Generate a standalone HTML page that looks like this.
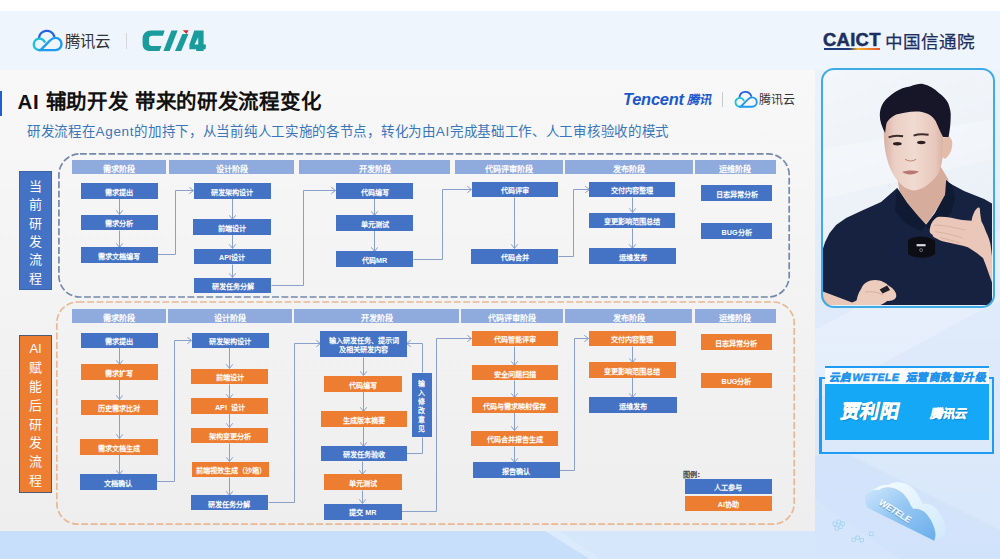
<!DOCTYPE html>
<html lang="zh-CN">
<head>
<meta charset="utf-8">
<style>
*{margin:0;padding:0;box-sizing:border-box}
html,body{width:1000px;height:559px;overflow:hidden}
body{position:relative;background:#ffffff;font-family:"Liberation Sans",sans-serif}
.abs{position:absolute}
#topband{position:absolute;left:0;top:11px;width:1000px;height:59px;background:#eff5fd}
#right{position:absolute;left:815px;top:70px;width:185px;height:489px;background:linear-gradient(180deg,#ebf2fb 0%,#e0ebfa 45%,#d8e7fb 100%);overflow:hidden}
#bottom{position:absolute;left:0;top:531px;width:815px;height:28px;background:#c8dffb;overflow:hidden}
#slide{position:absolute;left:0;top:70px;width:815px;height:461px;background:linear-gradient(180deg,#f8f8f9 0%,#f4f4f5 40%,#eeeeef 100%);overflow:hidden}
.bx{position:absolute;color:#fff;display:flex;padding-top:2.6px;align-items:center;justify-content:center;text-align:center;font-family:"Liberation Sans",sans-serif;font-weight:bold;font-size:7.2px;line-height:9px;white-space:nowrap}
.b{background:#4472c4}
.o{background:#ed7d31}
.hd{position:absolute;background:#8faadc;color:#fff;display:flex;padding-top:2px;align-items:center;justify-content:center;font-family:"Liberation Sans",sans-serif;font-weight:bold;font-size:8.2px;white-space:nowrap}
.vlabel{position:absolute;color:#fff;font-family:"Liberation Sans",sans-serif;font-weight:300;font-size:13px;line-height:18.4px;text-align:center;display:flex;flex-direction:column;align-items:center;justify-content:center}
</style>
</head>
<body>
<div id="topband"></div>
<!-- header logos -->
<svg class="abs" style="left:28px;top:26px" width="40" height="30" viewBox="28 26 40 30">
  <g fill="none" stroke-width="2.4" stroke-linecap="round">
  <path d="M39,38.3 A7.8,7.8 0 0 1 54.2,36.2" stroke="#2563e3"/>
  <path d="M44.6,41.8 A5.7,5.7 0 1 0 39.4,50.1" stroke="#1fc3d6"/>
  <path d="M39.4,50.1 L55.4,50.1 A6.1,6.1 0 0 0 55.4,37.9 C53,37.9 51.5,39 50,40.5 L40.8,49.8" stroke="#1e9af0" stroke-linejoin="round"/>
  </g>
</svg>
<div class="abs" style="left:64.5px;top:29px;font-size:15.4px;color:#333;letter-spacing:0px">腾讯云</div>
<div class="abs" style="left:125.5px;top:33px;width:1px;height:16px;background:#d3d7de"></div>
<svg class="abs" style="left:140px;top:28px" width="70" height="26" viewBox="140 28 70 26">
  <g fill="#1a9b9c">
    <path d="M164.6,30.6 L151,30.6 C146,30.6 142.6,34 142.6,38.5 L142.6,44 C142.6,48.5 145.5,51 150,51 L159.6,51 L161.4,46 L152,46 C150,46 149,45 149,43 L149,38.6 C149,36.8 150.3,35.7 152.3,35.7 L163,35.7 Z"/>
    <path d="M171.4,30.6 L177.6,30.6 L169.6,51 L163.4,51 Z"/>
    <path d="M182.4,33.9 L188.4,33.9 L181.2,51 L175,51 Z"/>
    <path fill-rule="evenodd" d="M194.3,30.6 L203.6,30.6 L203.6,44.6 L206,44.6 L205.6,49.2 L203.6,49.2 L203.6,51 L196.2,51 L196.2,49.2 L189.4,49.2 L189.4,44.6 Z M198.2,37.2 L198.2,44.6 L194.6,44.6 Z"/>
  </g>
  <path d="M182.8,30.2 L188.6,30.2 L186.4,34 Z" fill="#d8262c"/>
</svg>
<!-- CAICT -->
<div class="abs" style="left:823px;top:30px;font-size:17.5px;font-weight:bold;color:#1d2f5f;letter-spacing:0.3px;-webkit-text-stroke:0.5px #1d2f5f;transform:scaleX(1.05);transform-origin:0 0">CAICT</div>
<div class="abs" style="left:824px;top:47.5px;width:56px;height:2.2px;background:linear-gradient(90deg,#1d3a7a 0%,#1d3a7a 45%,#f5b32a 60%,#e8572a 100%)"></div>
<div class="abs" style="left:884.5px;top:27.5px;font-size:17.6px;color:#1d2f5f;-webkit-text-stroke:0.25px #1d2f5f">中国信通院</div>

<div id="right">
  <svg width="185" height="489" viewBox="815 70 185 489" style="position:absolute;left:0;top:0">
    <polygon points="815,330 1000,230 1000,300 815,400" fill="#ffffff" opacity="0.22"/>
    <polygon points="850,455 1000,530 1000,559 900,559 815,500 815,455" fill="#c9def8" opacity="0.45"/>
    <polygon points="815,470 870,470 1000,540 1000,559 815,559" fill="#d2e4fb" opacity="0.5"/>
  </svg>
</div>
<div id="bottom"><svg width="815" height="28" style="position:absolute;left:0;top:0"><polygon points="545,0 815,0 815,28 590,28" fill="#d6e7fc"/><polygon points="545,0 560,0 600,28 590,28" fill="#e0edfd" opacity="0.6"/></svg></div>

<div id="slide">
  <div class="abs" style="left:0;top:21px;width:2.2px;height:25px;background:#1f5fd1"></div>
  <div class="abs" style="left:17.5px;top:15px;font-size:20.5px;font-weight:bold;color:#111;white-space:nowrap;letter-spacing:0.7px">AI 辅助开发 带来的研发流程变化</div>
  <div class="abs" style="left:27px;top:50.3px;font-size:13.5px;letter-spacing:0.7px;color:#3a76bb;font-family:'Liberation Sans',sans-serif;white-space:nowrap">研发流程在Agent的加持下，从当前纯人工实施的各节点，转化为由AI完成基础工作、人工审核验收的模式</div>
  <!-- Tencent logo in slide -->
  <div class="abs" style="left:623px;top:20.3px;font-size:16.4px;font-weight:bold;font-style:italic;color:#1c58cc;letter-spacing:-0.2px;white-space:nowrap">Tencent</div><div class="abs" style="left:686px;top:19.6px;font-size:12.3px;font-weight:bold;color:#1c58cc;white-space:nowrap;transform:skewX(-12deg);transform-origin:0 100%">腾讯</div>
  <div class="abs" style="left:722px;top:22px;width:1px;height:15px;background:#c5c9d0"></div>
  
  <div class="abs" style="left:759px;top:19.5px;font-size:12px;color:#333;white-space:nowrap">腾讯云</div>
</div>

<svg class="abs" style="left:730px;top:88px" width="30" height="22" viewBox="730 88 30 22">
  <g fill="none" stroke-width="2.4" stroke-linecap="round" transform="translate(709.45,68.13) scale(0.77)">
  <path d="M39,38.3 A7.8,7.8 0 0 1 54.2,36.2" stroke="#2563e3"/>
  <path d="M44.6,41.8 A5.7,5.7 0 1 0 39.4,50.1" stroke="#1fc3d6"/>
  <path d="M39.4,50.1 L55.4,50.1 A6.1,6.1 0 0 0 55.4,37.9 C53,37.9 51.5,39 50,40.5 L40.8,49.8" stroke="#1e9af0" stroke-linejoin="round"/>
  </g>
</svg>
<!-- chart layer in page coords -->
<svg class="abs" style="left:0;top:0" width="815" height="531" viewBox="0 0 815 531">
  <rect x="58.9" y="153.9" width="730.3" height="143.1" rx="21" ry="21" fill="none" stroke="#7589aa" stroke-width="1.7" stroke-dasharray="6.9 2.5"/>
  <rect x="56.8" y="302" width="737.4" height="222.2" rx="21" ry="21" fill="none" stroke="#eab894" stroke-width="1.7" stroke-dasharray="6.9 2.5"/>
  <g fill="none" stroke="#8b9fcb" stroke-width="1">
<path d="M119.5,198.5 L119.5,214.5"/>
<path d="M116.3,210.3 L119.5,214.5 L122.7,210.3"/>
<path d="M119.5,230.5 L119.5,247.5"/>
<path d="M116.3,243.3 L119.5,247.5 L122.7,243.3"/>
<path d="M157.5,254.5 L175.5,254.5 L175.5,190.5 L193.5,190.5"/>
<path d="M189.3,193.7 L193.5,190.5 L189.3,187.3"/>
<path d="M232.5,198.5 L232.5,219.5"/>
<path d="M229.3,215.3 L232.5,219.5 L235.7,215.3"/>
<path d="M232.5,234.5 L232.5,248.5"/>
<path d="M229.3,244.3 L232.5,248.5 L235.7,244.3"/>
<path d="M232.5,264.5 L232.5,277.5"/>
<path d="M229.3,273.3 L232.5,277.5 L235.7,273.3"/>
<path d="M271.5,285.5 L303.5,285.5 L303.5,190.5 L335.5,190.5"/>
<path d="M331.3,193.7 L335.5,190.5 L331.3,187.3"/>
<path d="M374.5,198.5 L374.5,215.5"/>
<path d="M371.3,211.3 L374.5,215.5 L377.7,211.3"/>
<path d="M374.5,230.5 L374.5,251.5"/>
<path d="M371.3,247.3 L374.5,251.5 L377.7,247.3"/>
<path d="M413.5,259.5 L442.5,259.5 L442.5,189.5 L471.5,189.5"/>
<path d="M467.3,192.7 L471.5,189.5 L467.3,186.3"/>
<path d="M514.5,197.5 L514.5,248.5"/>
<path d="M511.3,244.3 L514.5,248.5 L517.7,244.3"/>
<path d="M558.5,256.5 L573.5,256.5 L573.5,189.5 L589.5,189.5"/>
<path d="M585.3,192.7 L589.5,189.5 L585.3,186.3"/>
<path d="M632.5,197.5 L632.5,212.5"/>
<path d="M629.3,208.3 L632.5,212.5 L635.7,208.3"/>
<path d="M632.5,228.5 L632.5,248.5"/>
<path d="M629.3,244.3 L632.5,248.5 L635.7,244.3"/>
<path d="M119.5,347.5 L119.5,364.5"/>
<path d="M116.3,360.3 L119.5,364.5 L122.7,360.3"/>
<path d="M119.5,379.5 L119.5,399.5"/>
<path d="M116.3,395.3 L119.5,399.5 L122.7,395.3"/>
<path d="M119.5,414.5 L119.5,438.5"/>
<path d="M116.3,434.3 L119.5,438.5 L122.7,434.3"/>
<path d="M119.5,454.5 L119.5,474.5"/>
<path d="M116.3,470.3 L119.5,474.5 L122.7,470.3"/>
<path d="M156.5,481.5 L174.5,481.5 L174.5,340.5 L191.5,340.5"/>
<path d="M187.3,343.7 L191.5,340.5 L187.3,337.3"/>
<path d="M229.5,347.5 L229.5,368.5"/>
<path d="M226.3,364.3 L229.5,368.5 L232.7,364.3"/>
<path d="M229.5,384.5 L229.5,398.5"/>
<path d="M226.3,394.3 L229.5,398.5 L232.7,394.3"/>
<path d="M229.5,413.5 L229.5,427.5"/>
<path d="M226.3,423.3 L229.5,427.5 L232.7,423.3"/>
<path d="M229.5,443.5 L229.5,461.5"/>
<path d="M226.3,457.3 L229.5,461.5 L232.7,457.3"/>
<path d="M229.5,477.5 L229.5,495.5"/>
<path d="M226.3,491.3 L229.5,495.5 L232.7,491.3"/>
<path d="M268.5,502.5 L294.5,502.5 L294.5,343.5 L320.5,343.5"/>
<path d="M316.3,346.7 L320.5,343.5 L316.3,340.3"/>
<path d="M363.5,357.5 L363.5,375.5"/>
<path d="M360.3,371.3 L363.5,375.5 L366.7,371.3"/>
<path d="M363.5,391.5 L363.5,411.5"/>
<path d="M360.3,407.3 L363.5,411.5 L366.7,407.3"/>
<path d="M363.5,426.5 L363.5,446.5"/>
<path d="M360.3,442.3 L363.5,446.5 L366.7,442.3"/>
<path d="M362.5,461.5 L362.5,474.5"/>
<path d="M359.3,470.3 L362.5,474.5 L365.7,470.3"/>
<path d="M362.5,490.5 L362.5,503.5"/>
<path d="M359.3,499.3 L362.5,503.5 L365.7,499.3"/>
<path d="M406.5,453.5 L422.5,453.5 L422.5,437.5"/>
<path d="M422.5,372.5 L422.5,343.5 L406.5,343.5"/>
<path d="M410.7,340.3 L406.5,343.5 L410.7,346.7"/>
<path d="M401.5,511.5 L436.5,511.5 L436.5,338.5 L471.5,338.5"/>
<path d="M467.3,341.7 L471.5,338.5 L467.3,335.3"/>
<path d="M514.5,346.5 L514.5,365.5"/>
<path d="M511.3,361.3 L514.5,365.5 L517.7,361.3"/>
<path d="M514.5,380.5 L514.5,397.5"/>
<path d="M511.3,393.3 L514.5,397.5 L517.7,393.3"/>
<path d="M514.5,412.5 L514.5,430.5"/>
<path d="M511.3,426.3 L514.5,430.5 L517.7,426.3"/>
<path d="M514.5,446.5 L514.5,462.5"/>
<path d="M511.3,458.3 L514.5,462.5 L517.7,458.3"/>
<path d="M559.5,470.5 L574.5,470.5 L574.5,338.5 L588.5,338.5"/>
<path d="M584.3,341.7 L588.5,338.5 L584.3,335.3"/>
<path d="M632.5,346.5 L632.5,362.5"/>
<path d="M629.3,358.3 L632.5,362.5 L635.7,358.3"/>
<path d="M632.5,377.5 L632.5,397.5"/>
<path d="M629.3,393.3 L632.5,397.5 L635.7,393.3"/>
  </g>
</svg>
<div class="vlabel" style="left:19.3px;top:170.5px;width:32.5px;height:119px;background:#4472c4;border:1px solid #3c62a8;padding-top:6px">当<br>前<br>研<br>发<br>流<br>程</div>
<div class="vlabel" style="left:19.4px;top:335px;width:32.3px;height:158px;background:#ed7d31;border:1px solid #4d5b73;line-height:18.8px;padding-top:3px">AI<br>赋<br>能<br>后<br>研<br>发<br>流<br>程</div>
<div class="hd" style="left:71.5px;top:159.9px;width:94.7px;height:14.0px">需求阶段</div>
<div class="hd" style="left:169.3px;top:159.9px;width:124.5px;height:14.0px">设计阶段</div>
<div class="hd" style="left:299.3px;top:159.9px;width:151.0px;height:14.0px">开发阶段</div>
<div class="hd" style="left:455.3px;top:159.9px;width:107.6px;height:14.0px">代码评审阶段</div>
<div class="hd" style="left:565.0px;top:159.9px;width:127.6px;height:14.0px">发布阶段</div>
<div class="hd" style="left:695.2px;top:159.9px;width:80.5px;height:14.0px">运维阶段</div>
<div class="hd" style="left:71.9px;top:309.3px;width:93.9px;height:14.0px">需求阶段</div>
<div class="hd" style="left:167.6px;top:309.3px;width:124.5px;height:14.0px">设计阶段</div>
<div class="hd" style="left:294.3px;top:309.3px;width:164.9px;height:14.0px">开发阶段</div>
<div class="hd" style="left:461.1px;top:309.3px;width:101.6px;height:14.0px">代码评审阶段</div>
<div class="hd" style="left:565.3px;top:309.3px;width:126.9px;height:14.0px">发布阶段</div>
<div class="hd" style="left:695.2px;top:309.3px;width:80.4px;height:14.0px">运维阶段</div>
<div class="bx b" style="left:80.5px;top:183.0px;width:77.5px;height:15.8px;"><span>需求提出</span></div>
<div class="bx b" style="left:80.5px;top:214.5px;width:77.5px;height:15.5px;"><span>需求分析</span></div>
<div class="bx b" style="left:80.8px;top:247.1px;width:77.0px;height:15.6px;"><span>需求文档编写</span></div>
<div class="bx b" style="left:193.7px;top:183.0px;width:77.6px;height:15.8px;"><span>研发架构设计</span></div>
<div class="bx b" style="left:193.0px;top:219.3px;width:77.5px;height:15.7px;"><span>前端设计</span></div>
<div class="bx b" style="left:193.5px;top:248.7px;width:77.0px;height:15.8px;"><span>API设计</span></div>
<div class="bx b" style="left:194.3px;top:277.7px;width:77.0px;height:15.3px;"><span>研发任务分解</span></div>
<div class="bx b" style="left:335.8px;top:183.0px;width:77.5px;height:15.8px;"><span>代码编写</span></div>
<div class="bx b" style="left:335.8px;top:215.2px;width:77.5px;height:15.8px;"><span>单元测试</span></div>
<div class="bx b" style="left:335.8px;top:251.4px;width:77.5px;height:15.8px;"><span>代码MR</span></div>
<div class="bx b" style="left:471.5px;top:181.7px;width:86.5px;height:15.5px;"><span>代码评审</span></div>
<div class="bx b" style="left:471.0px;top:248.7px;width:87.0px;height:15.8px;"><span>代码合并</span></div>
<div class="bx b" style="left:589.4px;top:181.7px;width:86.1px;height:15.5px;"><span>交付内容整理</span></div>
<div class="bx b" style="left:589.4px;top:212.5px;width:86.1px;height:15.8px;"><span>变更影响范围总结</span></div>
<div class="bx b" style="left:589.4px;top:248.0px;width:86.6px;height:15.5px;"><span>运维发布</span></div>
<div class="bx b" style="left:701.4px;top:185.4px;width:70.3px;height:15.6px;"><span>日志异常分析</span></div>
<div class="bx b" style="left:701.4px;top:223.2px;width:70.3px;height:15.8px;"><span>BUG分析</span></div>
<div class="bx b" style="left:80.5px;top:332.6px;width:77.2px;height:15.2px;"><span>需求提出</span></div>
<div class="bx o" style="left:80.5px;top:364.0px;width:77.2px;height:15.5px;"><span>需求扩写</span></div>
<div class="bx o" style="left:80.5px;top:399.6px;width:77.2px;height:15.3px;"><span>历史需求比对</span></div>
<div class="bx o" style="left:80.4px;top:439.0px;width:77.7px;height:15.6px;"><span>需求文档生成</span></div>
<div class="bx b" style="left:79.5px;top:474.4px;width:77.5px;height:15.6px;"><span>文档确认</span></div>
<div class="bx b" style="left:191.8px;top:332.6px;width:77.2px;height:15.2px;"><span>研发架构设计</span></div>
<div class="bx o" style="left:191.3px;top:368.8px;width:77.2px;height:15.5px;"><span>前端设计</span></div>
<div class="bx o" style="left:191.3px;top:398.3px;width:77.2px;height:15.3px;"><span>API&nbsp;&nbsp;设计</span></div>
<div class="bx o" style="left:191.4px;top:427.9px;width:77.1px;height:15.6px;"><span>架构变更分析</span></div>
<div class="bx o" style="left:192.0px;top:461.5px;width:77.4px;height:15.6px;"><span>前端视效生成（沙箱）</span></div>
<div class="bx b" style="left:190.8px;top:495.4px;width:77.2px;height:15.0px;"><span>研发任务分解</span></div>
<div class="bx b" style="left:320.3px;top:330.8px;width:86.6px;height:26.3px;"><span>输入研发任务、提示词<br>及相关研发内容</span></div>
<div class="bx o" style="left:324.3px;top:375.9px;width:77.8px;height:15.8px;"><span>代码编写</span></div>
<div class="bx o" style="left:320.8px;top:411.3px;width:86.1px;height:15.6px;"><span>生成版本摘要</span></div>
<div class="bx b" style="left:320.5px;top:446.2px;width:86.5px;height:15.0px;"><span>研发任务验收</span></div>
<div class="bx o" style="left:324.2px;top:474.2px;width:77.5px;height:15.8px;"><span>单元测试</span></div>
<div class="bx b" style="left:324.2px;top:503.8px;width:77.5px;height:15.8px;"><span>提交&nbsp;MR</span></div>
<div class="bx o" style="left:471.5px;top:330.8px;width:86.6px;height:15.6px;"><span>代码智能评审</span></div>
<div class="bx o" style="left:471.5px;top:365.2px;width:86.6px;height:15.3px;"><span>安全问题扫描</span></div>
<div class="bx o" style="left:471.5px;top:397.1px;width:86.6px;height:15.6px;"><span>代码与需求映射保存</span></div>
<div class="bx o" style="left:471.3px;top:430.6px;width:86.7px;height:15.6px;"><span>代码合并报告生成</span></div>
<div class="bx b" style="left:473.0px;top:462.0px;width:86.5px;height:16.0px;"><span>报告确认</span></div>
<div class="bx o" style="left:589.0px;top:330.8px;width:86.9px;height:15.6px;"><span>交付内容整理</span></div>
<div class="bx o" style="left:589.0px;top:362.2px;width:86.9px;height:15.6px;"><span>变更影响范围总结</span></div>
<div class="bx b" style="left:589.0px;top:397.1px;width:87.7px;height:15.6px;"><span>运维发布</span></div>
<div class="bx o" style="left:701.0px;top:334.4px;width:70.9px;height:16.1px;"><span>日志异常分析</span></div>
<div class="bx o" style="left:701.0px;top:372.6px;width:70.9px;height:15.9px;"><span>BUG分析</span></div>
<div class="bx b" style="left:684.8px;top:478.6px;width:87.1px;height:15.2px;"><span>人工参与</span></div>
<div class="bx o" style="left:684.8px;top:495.9px;width:87.1px;height:15.6px;"><span>AI协助</span></div>
<div class="bx b" style="left:411.7px;top:373.2px;width:20.3px;height:64.3px;white-space:normal;line-height:9px;font-size:7px;padding-top:1px"><span>输<br>入<br>修<br>改<br>意<br>见</span></div>
<div class="abs" style="left:682.5px;top:468.5px;font-size:7.2px;font-weight:bold;color:#444;font-family:'Liberation Sans',sans-serif">图例：</div>

<!-- video frame -->
<div class="abs" style="left:821.3px;top:68.3px;width:174.2px;height:239.7px;border:2.6px solid #3eabe6;border-radius:13px;overflow:hidden;background:linear-gradient(160deg,#f3f6fa 0%,#edf2f8 50%,#e6edf5 100%)">
  <svg width="169" height="235" viewBox="823.9 70.9 169 235" style="display:block">
    <defs>
      <linearGradient id="skin" x1="0" y1="0" x2="1" y2="0"><stop offset="0" stop-color="#d8b1a3"/><stop offset="0.18" stop-color="#ebcfc4"/><stop offset="0.5" stop-color="#f1dad1"/><stop offset="0.85" stop-color="#e8c8bc"/><stop offset="1" stop-color="#d7b0a1"/></linearGradient>
    </defs>
    <path d="M823.5,150 L993.5,120 L993.5,160 L823.5,200 Z" fill="#ffffff" opacity="0.25"/>
    <!-- neck -->
    <path d="M897,170 L940,165 L949,180 L951,190 L937,211 L927,226 L914,212 L901,197 Z" fill="#d6ad9c"/>
    <!-- shirt -->
    <path d="M898,189 L908,204 L918,216 L927,226 L936,214 L946,196 L950,184 L965,192 L985,200 L994,205 L994,308 L823,308 L823,252 L826,243 L830.5,234 L837,226 L847,219 L862,212 L882,203 Z" fill="#16223f"/>
    <!-- collar shading -->
    <path d="M898,189 L908,204 L918,216 L927,226 L922,232 L906,224 L896,212 Z" fill="#101a33"/>
    <path d="M947,181 L953,186 L956,200 L952,214 L938,226 L928,230 L927,226 L936,214 L946,196 Z" fill="#101a33"/>
    <!-- face -->
    <path d="M885,118 C884,135 885,150 888,160 C891,172 897,182 905,188 C910,191 914,192 918,191 C926,189 934,182 939,175 C943,167 944,158 944,148 L945,118 C930,108 900,108 885,118 Z" fill="url(#skin)"/>
    <!-- ear -->
    <path d="M944,140 C947,136 951,136 953,142 C954,149 951,156 946,160 L943,158 Z" fill="#e2bba9"/>
    <!-- hair -->
    <path d="M886,134 C883,128 880.5,122 880.7,116 C881,108 884,103 888.3,99 C893,95 900,89 910.8,87.5 C916,85.5 920,84.5 923.7,84.8 C930,86 935,89 939.8,94 C944,97 947,100 949,104 C951,109 952,114 951.6,118 C951.5,124 951,130 949.5,138 L944,138 C941,133 939,127 936.5,122 C933,116 928,114 920,112.5 C912,112 904,113.5 897,115.5 C892,118 889,121 887.5,124 C886.5,128 886.5,131 886,134 Z" fill="#161628"/>
    <!-- brows eyes nose mouth -->
    <path d="M889.5,138.3 C894,136.3 899,136.2 904,137.2" stroke="#3e2c2a" stroke-width="1.9" fill="none"/>
    <path d="M914.5,136.5 C919,134.8 924,134.8 929.5,135.6" stroke="#3e2c2a" stroke-width="1.9" fill="none"/>
    <ellipse cx="898.2" cy="144.6" rx="4.4" ry="1.7" fill="#2d1f1f"/>
    <ellipse cx="922.2" cy="143.4" rx="4.2" ry="1.7" fill="#2d1f1f"/>
    <path d="M906,160 C909,162.5 914,162.5 917,160" stroke="#c08c7c" stroke-width="1.2" fill="none"/>
    <path d="M903,173 C908,171 914,171 920,172.5 C915,176 908,176.5 903,173 Z" fill="#b87770"/>
    <!-- right hand -->
    <path d="M930.6,231.5 C931,226 933,221 938.3,217.8 C945,217 955,219 963,221 L972.5,221.6 C973.5,216 975.5,211 978.6,208.7 C980,208 981,209 980.8,210.5 C981,214 981.5,218 982.4,222.4 C984.5,226 986,230 987,233 C989.5,238 991,243 991.5,246 L993.5,262 L993.5,285 C990,276 987,266 983.9,259 C978,254 972,250 968.7,248.2 C962,246 956,245 950.4,243.7 C945,242.5 941,241.5 939.8,240.6 C936,239 933,237.5 933.7,236 C931,234.5 930.5,233 930.6,231.5 Z" fill="#eac7b9"/>
    <path d="M935,226 C945,226 955,228 966,231 M936,232.5 C946,234 955,236 964,239 M941,238.5 C948,240 955,242 961,244" stroke="#d3a795" stroke-width="0.7" fill="none"/>
    <!-- mic -->
    <path d="M909,241 C916,236 930,236 936,242 L936,255 C930,260 915,260 909,255 Z" fill="#0d0e14"/>
    <rect x="917.5" y="245" width="9" height="2.2" fill="#d7dbe2"/>
    <circle cx="922" cy="251" r="1.5" fill="none" stroke="#aab" stroke-width="0.6"/>
    <!-- lower hand / forearm -->
    <path d="M823,292 L853,303.5 L863,299 L866,308 L823,308 Z" fill="#e9c8b9"/>
    <path d="M862,290 C864,284 870,281 876,281 C882,281 887,284 890,287 C895,290 898,294 897,298 C896,301 892,302 888,302 C885,305 878,308 870,308 L857,308 C857,300 859,294 862,290 Z" fill="#ecccbd"/>
    <path d="M866,293 C872,292 879,293 884,296" stroke="#d4a998" stroke-width="0.8" fill="none"/>
    <path d="M880.5,290.5 L888,286.5 L891,291 L883.5,294.5 Z" fill="#1e1f27"/>
  </svg>
</div>

<!-- name card -->
<div class="abs" style="left:825.3px;top:366.2px;width:163.5px;height:2px;background:#1e9bf2"></div>
<div class="abs" style="left:825.3px;top:368.2px;width:163.5px;height:15.6px;background:#fafcff"></div>
<div class="abs" style="left:818.9px;top:377px;width:6.4px;height:2.4px;background:#1e9bf2"></div>
<div class="abs" style="left:988.8px;top:377px;width:5.6px;height:2.4px;background:#1e9bf2"></div>
<div class="abs" style="left:818.9px;top:377px;width:2.8px;height:77px;background:#1e9bf2"></div>
<div class="abs" style="left:991.6px;top:377px;width:2.8px;height:77px;background:#1e9bf2"></div>
<div class="abs" style="left:818.9px;top:451.6px;width:175.5px;height:2.5px;background:#1e9bf2"></div>
<div class="abs" style="left:828px;top:368.6px;font-size:10.6px;font-weight:bold;color:#1f93ec;white-space:nowrap;letter-spacing:0.5px;-webkit-text-stroke:0.5px #1f93ec;transform:skewX(-12deg);transform-origin:0 100%">云启WETELE&nbsp;&nbsp;运营商数智升级</div>
<div class="abs" style="left:825.3px;top:384px;width:163.5px;height:55.8px;background:#14a8f6"></div>
<div class="abs" style="left:839px;top:396px;font-size:19px;font-weight:bold;transform:skewX(-12deg);transform-origin:0 100%;color:#fff;text-shadow:1px 1.2px 1px rgba(0,40,90,0.35);white-space:nowrap;-webkit-text-stroke:0.6px #fff;letter-spacing:0.3px">贾利阳</div>
<div class="abs" style="left:928.5px;top:404px;font-size:12.3px;font-weight:bold;transform:skewX(-12deg);transform-origin:0 100%;color:#fff;text-shadow:1px 1px 1px rgba(0,40,90,0.35);white-space:nowrap;-webkit-text-stroke:0.35px #fff">腾讯云</div>

<!-- cloud -->
<svg class="abs" style="left:815px;top:455px" width="185" height="104" viewBox="815 455 185 104">
  <defs>
    <linearGradient id="clf" x1="0" y1="0" x2="1" y2="1"><stop offset="0" stop-color="#cfe6fc"/><stop offset="0.45" stop-color="#94c7f3"/><stop offset="1" stop-color="#6aaeec"/></linearGradient>
    <linearGradient id="clb" x1="0" y1="0" x2="1" y2="1"><stop offset="0" stop-color="#f4fbff"/><stop offset="1" stop-color="#d2eafc"/></linearGradient>
  </defs>
  <path d="M865,498 C866,492 872,489 879,490 C882,487 890,486 896,489 C903,492 908,498 911,506 C912,507 913,508 913,509 C919,508 925,511 928,516 C932,521 935,528 935.5,534 C935.5,537 935,539 934.2,540.8 L868,508 C866,505 865,501 865,498 Z" fill="url(#clb)" transform="translate(10.00,-5.00)"/><path d="M865,498 C866,492 872,489 879,490 C882,487 890,486 896,489 C903,492 908,498 911,506 C912,507 913,508 913,509 C919,508 925,511 928,516 C932,521 935,528 935.5,534 C935.5,537 935,539 934.2,540.8 L868,508 C866,505 865,501 865,498 Z" fill="url(#clb)" transform="translate(8.75,-4.38)"/><path d="M865,498 C866,492 872,489 879,490 C882,487 890,486 896,489 C903,492 908,498 911,506 C912,507 913,508 913,509 C919,508 925,511 928,516 C932,521 935,528 935.5,534 C935.5,537 935,539 934.2,540.8 L868,508 C866,505 865,501 865,498 Z" fill="url(#clb)" transform="translate(7.50,-3.75)"/><path d="M865,498 C866,492 872,489 879,490 C882,487 890,486 896,489 C903,492 908,498 911,506 C912,507 913,508 913,509 C919,508 925,511 928,516 C932,521 935,528 935.5,534 C935.5,537 935,539 934.2,540.8 L868,508 C866,505 865,501 865,498 Z" fill="url(#clb)" transform="translate(6.25,-3.12)"/><path d="M865,498 C866,492 872,489 879,490 C882,487 890,486 896,489 C903,492 908,498 911,506 C912,507 913,508 913,509 C919,508 925,511 928,516 C932,521 935,528 935.5,534 C935.5,537 935,539 934.2,540.8 L868,508 C866,505 865,501 865,498 Z" fill="url(#clb)" transform="translate(5.00,-2.50)"/><path d="M865,498 C866,492 872,489 879,490 C882,487 890,486 896,489 C903,492 908,498 911,506 C912,507 913,508 913,509 C919,508 925,511 928,516 C932,521 935,528 935.5,534 C935.5,537 935,539 934.2,540.8 L868,508 C866,505 865,501 865,498 Z" fill="url(#clb)" transform="translate(3.75,-1.88)"/><path d="M865,498 C866,492 872,489 879,490 C882,487 890,486 896,489 C903,492 908,498 911,506 C912,507 913,508 913,509 C919,508 925,511 928,516 C932,521 935,528 935.5,534 C935.5,537 935,539 934.2,540.8 L868,508 C866,505 865,501 865,498 Z" fill="url(#clb)" transform="translate(2.50,-1.25)"/><path d="M865,498 C866,492 872,489 879,490 C882,487 890,486 896,489 C903,492 908,498 911,506 C912,507 913,508 913,509 C919,508 925,511 928,516 C932,521 935,528 935.5,534 C935.5,537 935,539 934.2,540.8 L868,508 C866,505 865,501 865,498 Z" fill="url(#clb)" transform="translate(1.25,-0.62)"/>
  <path d="M865,498 C866,492 872,489 879,490 C882,487 890,486 896,489 C903,492 908,498 911,506 C912,507 913,508 913,509 C919,508 925,511 928,516 C932,521 935,528 935.5,534 C935.5,537 935,539 934.2,540.8 L868,508 C866,505 865,501 865,498 Z" fill="url(#clf)"/>
  <text x="0.6" y="0.8" font-size="9" font-weight="bold" fill="#5d93cf" font-family="Liberation Sans" transform="translate(878,504) rotate(32) skewX(-6)" letter-spacing="-0.3">WETELE</text><text x="0" y="0" font-size="9" font-weight="bold" fill="#ffffff" font-family="Liberation Sans" transform="translate(878,504) rotate(32) skewX(-6)" letter-spacing="-0.3">WETELE</text>
  <g fill="#cfe9fc" stroke="#8fc3ee" stroke-width="0.5">
    <rect x="833" y="522" width="3.6" height="3.6"/><rect x="837" y="520" width="3.6" height="3.6"/><rect x="841" y="522" width="3.6" height="3.6"/><rect x="835" y="526.5" width="3.6" height="3.6"/><rect x="839" y="525" width="3.6" height="3.6"/>
    <rect x="852" y="538" width="3.6" height="3.6"/><rect x="856" y="536" width="3.6" height="3.6"/><rect x="860" y="538.5" width="3.4" height="3.4"/>
    <rect x="869.5" y="532" width="3.6" height="3.6"/>
  </g>
</svg>
</body>
</html>
